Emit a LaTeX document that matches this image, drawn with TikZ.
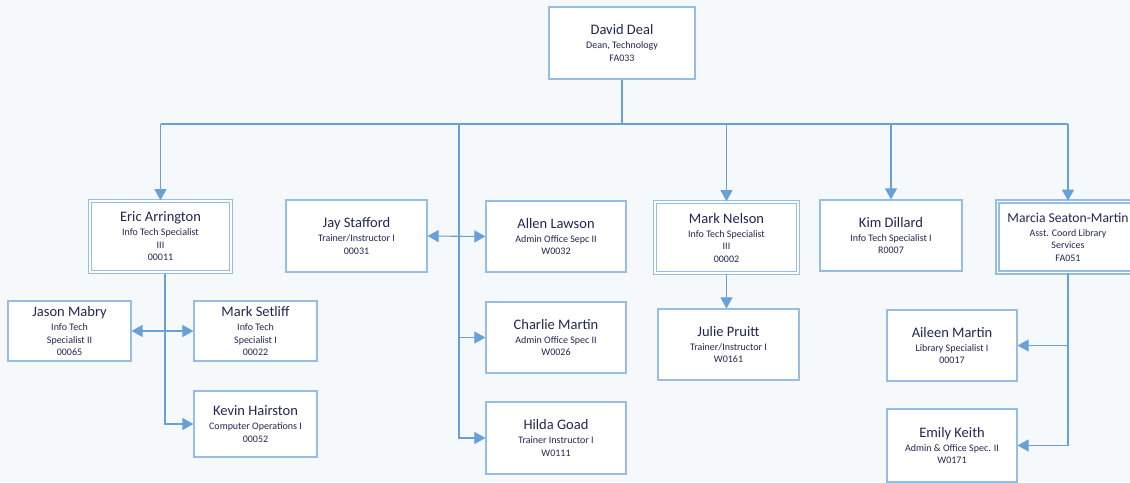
\documentclass[tikz,border=0pt]{standalone}
\usepackage{fontspec}
\setmainfont{Carlito}
\usetikzlibrary{arrows.meta}
\definecolor{bgpale}{RGB}{246,249,252}
\definecolor{boxline}{RGB}{150,190,228}
\definecolor{linkline}{RGB}{104,161,215}
\definecolor{inkblue}{RGB}{34,38,84}
\newcommand{\who}[1]{{\fontsize{14.5}{17}\selectfont #1}\\[1.5pt]}
\begin{document}
\begin{tikzpicture}[x=1pt, y=-1pt, >={Triangle[length=11pt,width=12pt]},
    card/.style={draw=boxline, line width=1.2pt, fill=white, inner sep=0pt, align=center,
        text=inkblue, font=\fontsize{10}{12.5}\selectfont, minimum width=140pt, minimum height=71pt},
    lead/.style={card, double=white, double distance=1.2pt, line width=1.6pt,
        minimum width=141pt, minimum height=71pt},
    link/.style={draw=linkline, line width=1.1pt}]

    % Page
    \path[use as bounding box, clip] (0,0) rectangle (1130,482);
    \fill[bgpale] (0,0) rectangle (1130,482);

    % Dean
    \node[card, minimum width=146pt, minimum height=72pt] (deal) at (622,43) {\who{David Deal}Dean, Technology\\FA033};

    % Direct reports
    \node[lead] (arrington) at (160.5,236.5) {\who{Eric Arrington}Info Tech Specialist\\III\\00011};
    \node[card, minimum width=141pt, minimum height=72pt] (stafford) at (356.5,236) {\who{Jay Stafford}Trainer/Instructor I\\00031};
    \node[card] (lawson) at (556,236.5) {\who{Allen Lawson}Admin Office Sepc II\\W0032};
    \node[card] (martin) at (556,337.5) {\who{Charlie Martin}Admin Office Spec II\\W0026};
    \node[card, minimum height=72pt] (goad) at (556,438) {\who{Hilda Goad}Trainer Instructor I\\W0111};
    \node[lead, minimum width=143pt] (nelson) at (726.5,237.5) {\who{Mark Nelson}Info Tech Specialist\\III\\00002};
    \node[card, minimum width=142pt] (dillard) at (891,235.5) {\who{Kim Dillard}Info Tech Specialist I\\R0007};
    \node[lead] (seaton) at (1068,237) {{\fontsize{13.6}{17}\selectfont Marcia Seaton-Martin}\\[1.5pt]Asst. Coord Library\\Services\\FA051};

    % Second level
    \node[card, minimum width=123pt, minimum height=60pt] (mabry) at (69.5,331) {\who{Jason Mabry}Info Tech\\Specialist II\\00065};
    \node[card, minimum width=123pt, minimum height=60pt] (setliff) at (255.5,331) {\who{Mark Setliff}Info Tech\\Specialist I\\00022};
    \node[card, minimum width=123pt, minimum height=66pt] (hairston) at (255.5,424) {\who{Kevin Hairston}Computer Operations I\\00052};
    \node[card, minimum width=141pt] (pruitt) at (728.5,344.5) {\who{Julie Pruitt}Trainer/Instructor I\\W0161};
    \node[card, minimum width=130pt] (aileen) at (952,345.5) {\who{Aileen Martin}Library Specialist I\\00017};
    \node[card, minimum width=130pt, minimum height=73pt] (keith) at (952,445.5) {\who{Emily Keith}Admin \& Office Spec. II\\W0171};

    % Bus under the dean
    \coordinate (bus) at (622,124);
    \coordinate (trunk) at (459,124);
    \draw[link] (deal.south) -- (bus);
    \draw[link] (arrington.north |- bus) -- (seaton.north |- bus);
    \draw[link,->] (arrington.north |- bus) -- (arrington.north);
    \draw[link,->] (nelson.north |- bus) -- (nelson.north);
    \draw[link,->] (dillard.north |- bus) -- (dillard.north);
    \draw[link,->] (seaton.north |- bus) -- (seaton.north);

    % Staff line
    \draw[link,->] (trunk) |- (goad.west);
    \draw[link,->] (trunk |- martin.west) -- (martin.west);
    \draw[link,<->] (stafford.east) -- (lawson.west);

    % Under Eric
    \coordinate (ericdrop) at (165,274);
    \draw[link,->] (ericdrop) |- (hairston.west);
    \draw[link,<->] (mabry.east) -- (setliff.west);

    % Under Mark and Marcia
    \draw[link,->] (nelson.south) -- (nelson.south |- pruitt.north);
    \draw[link,->] (seaton.south) |- (keith.east);
    \draw[link,->] (seaton.south |- aileen.east) -- (aileen.east);

\end{tikzpicture}
\end{document}
